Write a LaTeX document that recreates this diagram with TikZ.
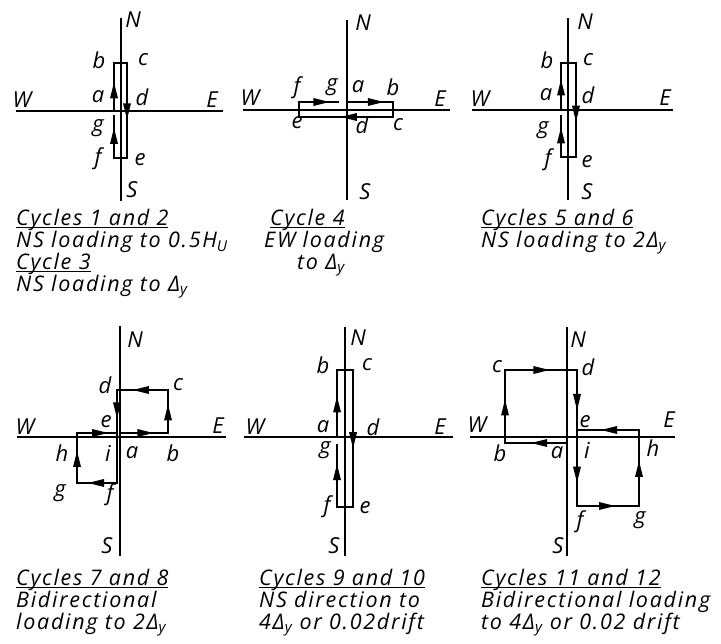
\documentclass[tikz,border=0pt]{standalone}
\usepackage{fontspec}
\setmainfont{Open Sans}[LetterSpace=8]
\usetikzlibrary{decorations.markings}
\newcommand\cyclehead[1]{\setbox0\hbox{#1}\rlap{\rule[-2pt]{\wd0}{1pt}}\box0}
\tikzset{
  axisline/.style={line width=1.3pt},
  loopline/.style={line width=2pt,line cap=rect},
  flowtip/.style={postaction={decorate},decoration={markings,
    mark=at position #1 with {\fill (7pt,0pt) -- (-9pt,4pt) -- (-9pt,-4pt) -- cycle;}}},
  dirlabel/.style={inner sep=0pt,font=\itshape\fontsize{22}{22}\selectfont},
  ptlabel/.style={inner sep=0pt,font=\itshape\fontsize{22}{22}\selectfont},
  captionblock/.style={anchor=north west,inner sep=0pt,align=left,
    font=\itshape\fontsize{21.5}{22}\selectfont}
}

\begin{document}
\begin{tikzpicture}[x=1pt,y=-1pt]
  \useasboundingbox (0,0) rectangle (721,644);

  % Cycles 1 and 2
  \begin{scope}[shift={(121,111)}]
    \coordinate (p1top) at (0,-93);  \coordinate (p1bot) at (0,90);
    \coordinate (p1left) at (-105,0); \coordinate (p1right) at (102,0);
    \draw[axisline] (p1top) -- (p1bot);
    \draw[axisline] (p1left) -- (p1right);
    \node[dirlabel] (p1N) at (12,-91) {N};
    \node[dirlabel] (p1S) at (11,79) {S};
    \node[dirlabel] (p1W) at (-99,-11) {W};
    \node[dirlabel] (p1E) at (91,-11) {E};
    \coordinate (p1ca) at (-7,0);  \coordinate (p1cb) at (-7,-48);
    \coordinate (p1cc) at (6,-48); \coordinate (p1ce) at (6,47);
    \coordinate (p1cf) at (-7,47); \coordinate (p1cg) at (-7,5);
    \draw[loopline,flowtip=0.45] (p1ca) -- (p1cb);
    \draw[loopline] (p1cb) -- (p1cc);
    \draw[loopline,flowtip=0.52] (p1cc) -- (p1ce);
    \draw[loopline] (p1ce) -- (p1cf);
    \draw[loopline,flowtip=0.55] (p1cf) -- (p1cg);
    \node[ptlabel] (p1a) at (-23,-14) {a};
    \node[ptlabel] (p1b) at (-22,-51) {b};
    \node[ptlabel] (p1c) at (22,-51) {c};
    \node[ptlabel] (p1d) at (21,-14) {d};
    \node[ptlabel] (p1e) at (19,49) {e};
    \node[ptlabel] (p1f) at (-23,48) {f};
    \node[ptlabel] (p1g) at (-23,17) {g};
  \end{scope}
  \node[captionblock] (cap1) at (16,209)
    {\cyclehead{Cycles 1 and 2}\\NS loading to 0.5H\textsubscript{U}\\
     \cyclehead{Cycle 3}\\NS loading to Δ\textsubscript{y}};

  % Cycle 4
  \begin{scope}[shift={(347,110)}]
    \coordinate (p2top) at (0,-90);  \coordinate (p2bot) at (0,90);
    \coordinate (p2left) at (-104,0); \coordinate (p2right) at (103,0);
    \draw[axisline] (p2top) -- (p2bot);
    \draw[axisline] (p2left) -- (p2right);
    \node[dirlabel] (p2N) at (16,-87) {N};
    \node[dirlabel] (p2S) at (18,82) {S};
    \node[dirlabel] (p2W) at (-97,-12) {W};
    \node[dirlabel] (p2E) at (93,-11) {E};
    \coordinate (p2ca) at (0,-8);   \coordinate (p2cb) at (46,-8);
    \coordinate (p2cc) at (46,7);   \coordinate (p2ce) at (-48,7);
    \coordinate (p2cf) at (-48,-8); \coordinate (p2cg) at (-9,-8);
    \draw[loopline,flowtip=0.65] (p2ca) -- (p2cb);
    \draw[loopline] (p2cb) -- (p2cc);
    \draw[loopline,flowtip=0.48] (p2cc) -- (p2ce);
    \draw[loopline] (p2ce) -- (p2cf);
    \draw[loopline,flowtip=0.6] (p2cf) -- (p2cg);
    \node[ptlabel] (p2a) at (11,-23) {a};
    \node[ptlabel] (p2b) at (46,-23) {b};
    \node[ptlabel] (p2c) at (51,15) {c};
    \node[ptlabel] (p2d) at (15,15) {d};
    \node[ptlabel] (p2e) at (-50,13) {e};
    \node[ptlabel] (p2f) at (-50,-22) {f};
    \node[ptlabel] (p2g) at (-15,-23) {g};
  \end{scope}
  \node[captionblock] (cap2) at (264,209)
    {\hspace*{6pt}\cyclehead{Cycle 4}\\EW loading\\\hspace*{33pt}to Δ\textsubscript{y}};

  % Cycles 5 and 6
  \begin{scope}[shift={(568,110)}]
    \coordinate (p3top) at (0,-92);  \coordinate (p3bot) at (0,90);
    \coordinate (p3left) at (-96,0); \coordinate (p3right) at (105,0);
    \draw[axisline] (p3top) -- (p3bot);
    \draw[axisline] (p3left) -- (p3right);
    \node[dirlabel] (p3N) at (17,-88) {N};
    \node[dirlabel] (p3S) at (19,82) {S};
    \node[dirlabel] (p3W) at (-88,-11) {W};
    \node[dirlabel] (p3E) at (97,-12) {E};
    \coordinate (p3ca) at (-7,0);  \coordinate (p3cb) at (-7,-47);
    \coordinate (p3cc) at (8,-47); \coordinate (p3ce) at (8,47);
    \coordinate (p3cf) at (-7,47); \coordinate (p3cg) at (-7,6);
    \draw[loopline,flowtip=0.5] (p3ca) -- (p3cb);
    \draw[loopline] (p3cb) -- (p3cc);
    \draw[loopline,flowtip=0.55] (p3cc) -- (p3ce);
    \draw[loopline] (p3ce) -- (p3cf);
    \draw[loopline,flowtip=0.55] (p3cf) -- (p3cg);
    \node[ptlabel] (p3a) at (-22,-15) {a};
    \node[ptlabel] (p3b) at (-21,-50) {b};
    \node[ptlabel] (p3c) at (20,-50) {c};
    \node[ptlabel] (p3d) at (20,-15) {d};
    \node[ptlabel] (p3e) at (19,52) {e};
    \node[ptlabel] (p3f) at (-20,50) {f};
    \node[ptlabel] (p3g) at (-25,20) {g};
  \end{scope}
  \node[captionblock] (cap3) at (481,209)
    {\cyclehead{Cycles 5 and 6}\\NS loading to 2Δ\textsubscript{y}};

  % Cycles 7 and 8
  \begin{scope}[shift={(120,437)}]
    \coordinate (p4top) at (0,-111);  \coordinate (p4bot) at (0,119);
    \coordinate (p4left) at (-103,0); \coordinate (p4right) at (106,0);
    \draw[axisline] (p4top) -- (p4bot);
    \draw[axisline] (p4left) -- (p4right);
    \node[dirlabel] (p4N) at (15,-97) {N};
    \node[dirlabel] (p4S) at (-13,109) {S};
    \node[dirlabel] (p4W) at (-95,-10) {W};
    \node[dirlabel] (p4E) at (98,-11) {E};
    \coordinate (p4ca) at (0,-4);   \coordinate (p4cb) at (48,-4);
    \coordinate (p4cc) at (48,-47); \coordinate (p4cd) at (-3,-47);
    \coordinate (p4ce) at (-3,-4);  \coordinate (p4cf) at (-3,46);
    \coordinate (p4cg) at (-43,46); \coordinate (p4ch) at (-43,-4);
    \coordinate (p4ci) at (-3,-4);
    \draw[loopline,flowtip=0.55] (p4ca) -- (p4cb);
    \draw[loopline,flowtip=0.5] (p4cb) -- (p4cc);
    \draw[loopline,flowtip=0.55] (p4cc) -- (p4cd);
    \draw[loopline,flowtip=0.5] (p4cd) -- (p4ce);
    \draw[loopline] (p4ce) -- (p4cf);
    \draw[loopline,flowtip=0.55] (p4cf) -- (p4cg);
    \draw[loopline,flowtip=0.5] (p4cg) -- (p4ch);
    \draw[loopline,flowtip=0.6] (p4ch) -- (p4ci);
    \node[ptlabel] (p4a) at (12,16) {a};
    \node[ptlabel] (p4b) at (53,16) {b};
    \node[ptlabel] (p4c) at (58,-52) {c};
    \node[ptlabel] (p4d) at (-15,-52) {d};
    \node[ptlabel] (p4e) at (-14,-15) {e};
    \node[ptlabel] (p4f) at (-10,58) {f};
    \node[ptlabel] (p4g) at (-60,56) {g};
    \node[ptlabel] (p4h) at (-58,16) {h};
    \node[ptlabel] (p4i) at (-12,16) {i};
  \end{scope}
  \node[captionblock] (cap4) at (16,569)
    {\cyclehead{Cycles 7 and 8}\\Bidirectional\\loading to 2Δ\textsubscript{y}};

  % Cycles 9 and 10
  \begin{scope}[shift={(345,437)}]
    \coordinate (p5top) at (0,-110);  \coordinate (p5bot) at (0,119);
    \coordinate (p5left) at (-101,0); \coordinate (p5right) at (108,0);
    \draw[axisline] (p5top) -- (p5bot);
    \draw[axisline] (p5left) -- (p5right);
    \node[dirlabel] (p5N) at (13,-99) {N};
    \node[dirlabel] (p5S) at (-11,109) {S};
    \node[dirlabel] (p5W) at (-90,-10) {W};
    \node[dirlabel] (p5E) at (95,-10) {E};
    \coordinate (p5ca) at (-8,0);  \coordinate (p5cb) at (-8,-67);
    \coordinate (p5cc) at (8,-67); \coordinate (p5ce) at (8,70);
    \coordinate (p5cf) at (-8,70); \coordinate (p5cg) at (-8,8);
    \draw[loopline,flowtip=0.5] (p5ca) -- (p5cb);
    \draw[loopline] (p5cb) -- (p5cc);
    \draw[loopline,flowtip=0.52] (p5cc) -- (p5ce);
    \draw[loopline] (p5ce) -- (p5cf);
    \draw[loopline,flowtip=0.58] (p5cf) -- (p5cg);
    \node[ptlabel] (p5a) at (-22,-10) {a};
    \node[ptlabel] (p5b) at (-22,-72) {b};
    \node[ptlabel] (p5c) at (22,-72) {c};
    \node[ptlabel] (p5d) at (28,-10) {d};
    \node[ptlabel] (p5e) at (20,71) {e};
    \node[ptlabel] (p5f) at (-18,70) {f};
    \node[ptlabel] (p5g) at (-20,13) {g};
  \end{scope}
  \node[captionblock] (cap5) at (259,569)
    {\cyclehead{Cycles 9 and 10}\\NS direction to\\4Δ\textsubscript{y} or 0.02drift};

  % Cycles 11 and 12
  \begin{scope}[shift={(567,437)}]
    \coordinate (p6top) at (0,-110);  \coordinate (p6bot) at (0,119);
    \coordinate (p6left) at (-97,0); \coordinate (p6right) at (108,0);
    \draw[axisline] (p6top) -- (p6bot);
    \draw[axisline] (p6left) -- (p6right);
    \node[dirlabel] (p6N) at (11,-97) {N};
    \node[dirlabel] (p6S) at (-9,109) {S};
    \node[dirlabel] (p6W) at (-90,-12) {W};
    \node[dirlabel] (p6E) at (102,-17) {E};
    \coordinate (p6ca) at (-2,6);   \coordinate (p6cb) at (-62,6);
    \coordinate (p6cc) at (-62,-67); \coordinate (p6cd) at (10,-67);
    \coordinate (p6ce) at (10,-7);  \coordinate (p6cf) at (10,69);
    \coordinate (p6cg) at (72,69);  \coordinate (p6ch) at (72,-7);
    \coordinate (p6ci) at (10,-7);
    \draw[loopline,flowtip=0.45] (p6ca) -- (p6cb);
    \draw[loopline,flowtip=0.5] (p6cb) -- (p6cc);
    \draw[loopline,flowtip=0.52] (p6cc) -- (p6cd);
    \draw[loopline,flowtip=0.55] (p6cd) -- (p6ce);
    \draw[loopline,flowtip=0.6] (p6ce) -- (p6cf);
    \draw[loopline,flowtip=0.5] (p6cf) -- (p6cg);
    \draw[loopline,flowtip=0.5] (p6cg) -- (p6ch);
    \draw[loopline,flowtip=0.5] (p6ch) -- (p6ci);
    \node[ptlabel] (p6a) at (-10,16) {a};
    \node[ptlabel] (p6b) at (-67,16) {b};
    \node[ptlabel] (p6c) at (-70,-70) {c};
    \node[ptlabel] (p6d) at (21,-70) {d};
    \node[ptlabel] (p6e) at (18,-15) {e};
    \node[ptlabel] (p6f) at (13,85) {f};
    \node[ptlabel] (p6g) at (73,83) {g};
    \node[ptlabel] (p6h) at (86,11) {h};
    \node[ptlabel] (p6i) at (20,13) {i};
  \end{scope}
  \node[captionblock] (cap6) at (481,569)
    {\cyclehead{Cycles 11 and 12}\\Bidirectional loading\\to 4Δ\textsubscript{y} or 0.02 drift};
\end{tikzpicture}
\end{document}
